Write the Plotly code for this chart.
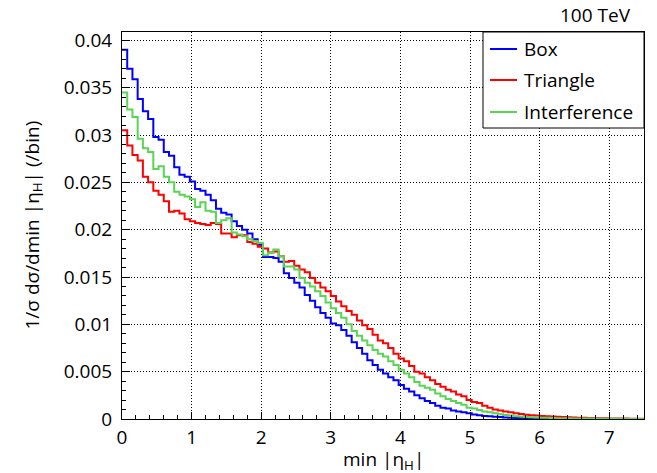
import numpy as np
import plotly.graph_objects as go

# Histogram binning: 100 bins on min|eta_H| from 0 to 7.5
n_bins = 100
x_min, x_max = 0.0, 7.5
bin_edges = np.linspace(x_min, x_max, n_bins + 1)

box = [
    0.0390, 0.0370, 0.0359, 0.0338, 0.0325, 0.0317, 0.0298, 0.0295, 0.0282, 0.0278,
    0.0266, 0.0258, 0.0256, 0.0251, 0.0243, 0.0241, 0.0237, 0.0231, 0.0222, 0.0218,
    0.0216, 0.0209, 0.0204, 0.0200, 0.0196, 0.0190, 0.0184, 0.0171, 0.0171, 0.0170,
    0.0166, 0.0154, 0.0149, 0.0144, 0.0139, 0.0131, 0.0125, 0.0118, 0.0112, 0.0107,
    0.0101, 0.0099, 0.0094, 0.0088, 0.0081, 0.0075, 0.0069, 0.0062, 0.0057, 0.0052,
    0.0048, 0.0044, 0.0041, 0.0036, 0.0032, 0.0029, 0.0025, 0.0022, 0.0019, 0.0017,
    0.0014, 0.0012, 0.0011, 0.0009, 0.0008, 0.0007, 0.0006, 0.00048, 0.0004, 0.00033,
    0.00028, 0.00024, 0.0002, 0.00016, 0.00013, 0.00011, 0.00009, 0.00007, 0.00006, 0.00005,
    0.00004, 0.00003, 0.00003, 0.00002, 0.00002, 0.00002, 0.00001, 0.00001, 0.00001, 0.00001,
    0.00001, 0.0, 0.0, 0.0, 0.0, 0.0, 0.0, 0.0, 0.0, 0.0,
]

triangle = [
    0.0305, 0.0289, 0.0279, 0.0273, 0.0256, 0.0250, 0.0241, 0.0237, 0.0230, 0.0219,
    0.0220, 0.0217, 0.0211, 0.0209, 0.0207, 0.0206, 0.0205, 0.0207, 0.0206, 0.0196,
    0.0196, 0.0192, 0.0194, 0.0194, 0.0187, 0.0185, 0.0182, 0.0180, 0.0176, 0.0177,
    0.0172, 0.0166, 0.0167, 0.0162, 0.0158, 0.0155, 0.0149, 0.0144, 0.0139, 0.0135,
    0.0130, 0.0124, 0.0119, 0.0114, 0.0110, 0.0104, 0.0099, 0.0095, 0.0089, 0.0083,
    0.0080, 0.0075, 0.0069, 0.0064, 0.0061, 0.0056, 0.0050, 0.0048, 0.0044, 0.0041,
    0.0037, 0.0034, 0.0031, 0.0029, 0.0026, 0.0024, 0.0020, 0.0018, 0.0017, 0.0014,
    0.0012, 0.0010, 0.0009, 0.0008, 0.0007, 0.0006, 0.00052, 0.00046, 0.0004, 0.00036,
    0.00032, 0.0003, 0.00027, 0.00024, 0.00021, 0.00019, 0.00016, 0.00014, 0.00012, 0.0001,
    0.00009, 0.00008, 0.00007, 0.00006, 0.00005, 0.00004, 0.00004, 0.00003, 0.00002, 0.00002,
]

interference = [
    0.0345, 0.0327, 0.0319, 0.0296, 0.0286, 0.0282, 0.0264, 0.0267, 0.0256, 0.0250,
    0.0240, 0.0237, 0.0235, 0.0232, 0.0224, 0.0229, 0.0220, 0.0219, 0.0207, 0.0210,
    0.0212, 0.0197, 0.0195, 0.0193, 0.0190, 0.0188, 0.0186, 0.0173, 0.0176, 0.0179,
    0.0172, 0.0161, 0.0161, 0.0158, 0.0149, 0.0144, 0.0140, 0.0135, 0.0130, 0.0123,
    0.0117, 0.0112, 0.0107, 0.0100, 0.0093, 0.0088, 0.0083, 0.0078, 0.0073, 0.0069,
    0.0066, 0.0061, 0.0057, 0.0052, 0.0048, 0.0044, 0.0039, 0.0035, 0.0033, 0.0031,
    0.0027, 0.0024, 0.0021, 0.0019, 0.0017, 0.0015, 0.0012, 0.0011, 0.00095, 0.0008,
    0.0007, 0.0006, 0.0005, 0.00042, 0.00037, 0.0003, 0.00026, 0.00022, 0.00019, 0.00016,
    0.00014, 0.00012, 0.0001, 0.00009, 0.00008, 0.00007, 0.00006, 0.00005, 0.00004, 0.00004,
    0.00003, 0.00003, 0.00002, 0.00002, 0.00002, 0.00001, 0.00001, 0.00001, 0.00001, 0.0,
]

series_names = ["Box", "Triangle", "Interference"]
series_colors = ["#0000ff", "#ff0000", "#59d454"]
series_values = [box, triangle, interference]

x_ticks = [0, 1, 2, 3, 4, 5, 6, 7]
y_ticks = [0, 0.005, 0.01, 0.015, 0.02, 0.025, 0.03, 0.035, 0.04]
y_tick_text = ["0", "0.005", "0.01", "0.015", "0.02", "0.025", "0.03", "0.035", "0.04"]

FONT = "Open Sans"
FS_TICK = 19
FS_TEXT = 19

fig = go.Figure()
for name, color, vals in zip(series_names, series_colors, series_values):
    # step outline: each value held across its bin
    fig.add_trace(go.Scatter(
        x=bin_edges,
        y=list(vals) + [vals[-1]],
        mode="lines",
        line=dict(color=color, width=2, shape="hv"),
        name=name,
        showlegend=False,
        hoverinfo="skip",
    ))

axis_common = dict(
    showline=True, linecolor="black", linewidth=1, mirror=True,
    ticks="inside", tickcolor="black", tickwidth=1,
    showgrid=True, gridcolor="black", gridwidth=1, griddash="1px,2px",
    zeroline=False,
    tickfont=dict(family=FONT, size=FS_TICK, color="black"),
)

fig.update_xaxes(
    range=[x_min, x_max], tickmode="array", tickvals=x_ticks, ticklen=7,
    minor=dict(ticks="inside", ticklen=4, dtick=0.2, tick0=0, tickcolor="black", showgrid=False),
    ticklabelstandoff=1,
    **axis_common,
)
fig.update_yaxes(
    range=[0, 0.04088], tickmode="array", tickvals=y_ticks, ticktext=y_tick_text, ticklen=8,
    minor=dict(ticks="inside", ticklen=4, dtick=0.001, tick0=0, tickcolor="black", showgrid=False),
    ticklabelstandoff=5,
    **axis_common,
)

# frame geometry in pixels, used to place the legend and titles
L, R, T, B = 122, 13, 32, 54
W, H = 657 - L - R, 473 - T - B


def px(xp):
    return (xp - L) / W


def py(yp):
    return (473 - B - yp) / H


shapes = [dict(type="rect", xref="paper", yref="paper",
               x0=px(483), x1=1.0, y0=py(128), y1=1.0,
               line=dict(color="black", width=1), fillcolor="white", layer="above")]
annotations = []
row_y = [49, 80, 112]
for name, color, ry in zip(series_names, series_colors, row_y):
    shapes.append(dict(type="line", xref="paper", yref="paper",
                       x0=px(490), x1=px(517), y0=py(ry), y1=py(ry),
                       line=dict(color=color, width=2), layer="above"))
    annotations.append(dict(text=name, xref="paper", yref="paper", x=px(522), y=py(ry),
                            xanchor="left", yanchor="middle", showarrow=False,
                            font=dict(family=FONT, size=FS_TEXT, color="black")))

annotations.append(dict(text="100 TeV", xref="paper", yref="paper", x=px(633), y=py(15),
                        xanchor="right", yanchor="middle", showarrow=False,
                        font=dict(family=FONT, size=FS_TEXT, color="black")))
annotations.append(dict(text="min |η<sub>H</sub>|", xref="paper", yref="paper",
                        x=0.5, y=py(460), xanchor="center", yanchor="middle",
                        showarrow=False, font=dict(family=FONT, size=FS_TEXT, color="black")))
annotations.append(dict(text="1/σ dσ/dmin |η<sub>H</sub>| (/bin)", xref="paper", yref="paper",
                        x=px(32), y=0.5, xanchor="center", yanchor="middle", textangle=-90,
                        showarrow=False, font=dict(family=FONT, size=FS_TEXT, color="black")))

fig.update_layout(
    width=657, height=473,
    margin=dict(l=L, r=R, t=T, b=B),
    paper_bgcolor="white", plot_bgcolor="white",
    shapes=shapes, annotations=annotations,
    showlegend=False,
)

fig.write_html("out.html")
